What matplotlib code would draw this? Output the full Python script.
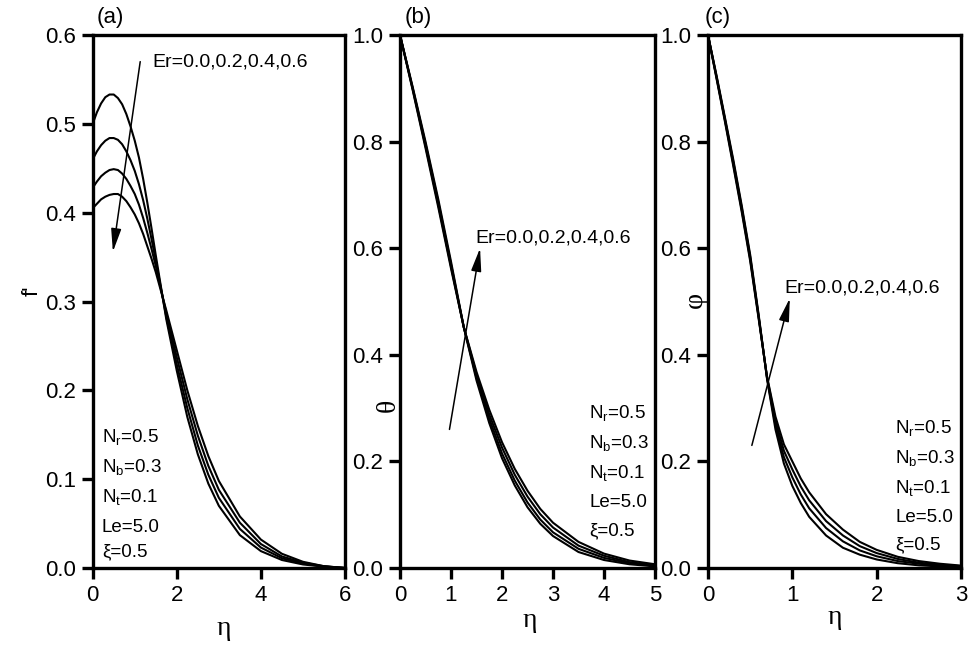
import matplotlib
matplotlib.use("Agg")
import matplotlib.pyplot as plt

plt.rcParams['font.family'] = ['Liberation Sans', 'DejaVu Sans']
plt.rcParams['mathtext.fontset'] = 'custom'
plt.rcParams['mathtext.rm'] = 'Liberation Sans'
plt.rcParams['mathtext.it'] = 'Liberation Sans:italic'

er_label = 'Er=0.0,0.2,0.4,0.6'
param_lines = [r'N$_\mathregular{r}$=0.5', r'N$_\mathregular{b}$=0.3', r'N$_\mathregular{t}$=0.1',
               'Le=5.0', '\u03be=0.5']

# (a) velocity f'
eta_a = [0, 0.1, 0.2, 0.3, 0.4, 0.5, 0.6, 0.7, 0.8, 0.9, 1.0, 1.1, 1.2, 1.3, 1.4, 1.5,
         1.75, 2.0, 2.25, 2.5, 2.75, 3.0, 3.5, 4.0, 4.5, 5.0, 5.5, 6.0]
fp_er00 = [0.500, 0.513, 0.523, 0.530, 0.533, 0.533, 0.529, 0.522, 0.511, 0.497, 0.481, 0.462, 0.438, 0.411, 0.382, 0.352,
           0.280, 0.222, 0.170, 0.128, 0.095, 0.070, 0.037, 0.019, 0.009, 0.004, 0.0015, 0.0]
fp_er02 = [0.460, 0.469, 0.476, 0.481, 0.484, 0.484, 0.482, 0.477, 0.469, 0.459, 0.447, 0.432, 0.414, 0.393, 0.370, 0.346,
           0.283, 0.229, 0.180, 0.138, 0.105, 0.079, 0.044, 0.023, 0.011, 0.005, 0.0017, 0.0]
fp_er04 = [0.428, 0.435, 0.441, 0.445, 0.448, 0.449, 0.448, 0.444, 0.438, 0.430, 0.421, 0.409, 0.394, 0.377, 0.359, 0.340,
           0.287, 0.237, 0.190, 0.149, 0.115, 0.088, 0.051, 0.027, 0.013, 0.006, 0.002, 0.0]
fp_er06 = [0.405, 0.410, 0.415, 0.418, 0.420, 0.421, 0.421, 0.418, 0.413, 0.406, 0.398, 0.388, 0.376, 0.362, 0.348, 0.333,
           0.290, 0.245, 0.200, 0.160, 0.126, 0.098, 0.058, 0.032, 0.016, 0.007, 0.002, 0.0]

# (b) temperature theta
eta_b = [0, 0.25, 0.5, 0.75, 1.0, 1.25, 1.5, 1.75, 2.0, 2.25, 2.5, 2.75, 3.0, 3.5, 4.0, 4.5, 5.0]
th_er00 = [1.0, 0.902, 0.800, 0.692, 0.575, 0.452, 0.352, 0.272, 0.206, 0.155, 0.114, 0.083, 0.060, 0.030, 0.015, 0.007, 0.003]
th_er02 = [1.0, 0.900, 0.796, 0.687, 0.570, 0.452, 0.357, 0.280, 0.215, 0.164, 0.123, 0.091, 0.067, 0.036, 0.019, 0.009, 0.004]
th_er04 = [1.0, 0.898, 0.792, 0.682, 0.566, 0.452, 0.363, 0.288, 0.226, 0.175, 0.134, 0.101, 0.076, 0.042, 0.023, 0.011, 0.005]
th_er06 = [1.0, 0.896, 0.788, 0.677, 0.562, 0.452, 0.368, 0.297, 0.236, 0.186, 0.145, 0.111, 0.085, 0.049, 0.027, 0.014, 0.007]

# (c) concentration phi
eta_c = [0, 0.1, 0.2, 0.3, 0.4, 0.5, 0.6, 0.7, 0.8, 0.9, 1.0, 1.1, 1.2, 1.4, 1.6, 1.8, 2.0, 2.25, 2.5, 2.75, 3.0]
ph_er00 = [1.0, 0.925, 0.846, 0.766, 0.680, 0.588, 0.476, 0.355, 0.260, 0.196, 0.154, 0.122, 0.096,
           0.061, 0.038, 0.025, 0.016, 0.009, 0.005, 0.003, 0.0015]
ph_er02 = [1.0, 0.923, 0.843, 0.762, 0.676, 0.584, 0.473, 0.356, 0.268, 0.208, 0.170, 0.138, 0.112,
           0.075, 0.050, 0.033, 0.022, 0.013, 0.008, 0.004, 0.0025]
ph_er04 = [1.0, 0.921, 0.841, 0.758, 0.672, 0.580, 0.471, 0.358, 0.276, 0.220, 0.185, 0.153, 0.127,
           0.088, 0.061, 0.041, 0.028, 0.017, 0.010, 0.006, 0.0035]
ph_er06 = [1.0, 0.919, 0.838, 0.754, 0.668, 0.576, 0.468, 0.359, 0.284, 0.232, 0.200, 0.168, 0.142,
           0.101, 0.072, 0.049, 0.034, 0.021, 0.013, 0.008, 0.0045]


def style_axis(ax, xmax, ymax, xticks, yticks, tag, tag_x):
    ax.set_xlim(0, xmax)
    ax.set_ylim(0, ymax)
    ax.set_xticks(xticks)
    ax.set_yticks(yticks)
    ax.set_xticklabels([str(t) for t in xticks])
    ax.set_yticklabels(['%.1f' % t for t in yticks])
    for s in ax.spines.values():
        s.set_linewidth(2.4)
    ax.tick_params(direction='out', length=8, width=2.4, labelsize=16, pad=4)
    ax.text(tag_x, 1.0225, tag, transform=ax.transAxes, fontsize=16, ha='left', va='baseline')


fig = plt.figure(figsize=(9.69, 6.49), dpi=100)
ax_a = fig.add_axes([92.7 / 969, 81 / 649, 252.3 / 969, 533 / 649])
ax_b = fig.add_axes([400 / 969, 81 / 649, 255 / 969, 533 / 649])
ax_c = fig.add_axes([708 / 969, 81 / 649, 253 / 969, 533 / 649])

for ys in (fp_er00, fp_er02, fp_er04, fp_er06):
    ax_a.plot(eta_a, ys, color='black', lw=1.5)
for ys in (th_er00, th_er02, th_er04, th_er06):
    ax_b.plot(eta_b, ys, color='black', lw=1.5)
for ys in (ph_er00, ph_er02, ph_er04, ph_er06):
    ax_c.plot(eta_c, ys, color='black', lw=1.5)

style_axis(ax_a, 6, 0.6, [0, 2, 4, 6], [0.0, 0.1, 0.2, 0.3, 0.4, 0.5, 0.6], '(a)', 0.017)
style_axis(ax_b, 5, 1.0, [0, 1, 2, 3, 4, 5], [0.0, 0.2, 0.4, 0.6, 0.8, 1.0], '(b)', 0.02)
style_axis(ax_c, 3, 1.0, [0, 1, 2, 3], [0.0, 0.2, 0.4, 0.6, 0.8, 1.0], '(c)', -0.012)

# axis titles
greek = dict(fontsize=20, family='Liberation Serif', ha='center', va='center')
ax_a.text(0.52, -0.113, '\u03b7', transform=ax_a.transAxes, **greek)
ax_b.text(0.51, -0.098, '\u03b7', transform=ax_b.transAxes, **greek)
ax_c.text(0.50, -0.092, '\u03b7', transform=ax_c.transAxes, **greek)
ax_a.text(-0.24, 0.52, "f'", transform=ax_a.transAxes, fontsize=16, rotation=90, ha='center', va='center')
ax_b.text(-0.047, 0.306, '\u03b8', transform=ax_b.transAxes, rotation=90, **greek)
ax_c.text(-0.051, 0.503, '\u03c6', transform=ax_c.transAxes, rotation=90, **greek)

arrow = dict(arrowstyle='-|>,head_length=1.0,head_width=0.22', mutation_scale=14,
             color='black', lw=1.1, shrinkA=0, shrinkB=0)

# Er arrows and labels
ax_a.annotate('', xy=(0.48, 0.356), xytext=(1.13, 0.570), arrowprops=arrow)
ax_a.text(1.41, 0.570, er_label, fontsize=14, va='center', ha='left')
ax_b.annotate('', xy=(1.57, 0.60), xytext=(0.97, 0.26), arrowprops=arrow)
ax_b.text(1.47, 0.62, er_label, fontsize=14, va='center', ha='left')
ax_c.annotate('', xy=(0.97, 0.506), xytext=(0.52, 0.23), arrowprops=arrow)
ax_c.text(0.90, 0.526, er_label, fontsize=14, va='center', ha='left')

# parameter lists
param_pos = [(ax_a, 0.22, [0.148, 0.114, 0.080, 0.046, 0.018]),
             (ax_b, 3.71, [0.290, 0.235, 0.178, 0.122, 0.070]),
             (ax_c, 2.22, [0.263, 0.206, 0.150, 0.094, 0.043])]
for ax, x0, ys in param_pos:
    for txt, y in zip(param_lines, ys):
        ax.text(x0, y, txt, fontsize=13.5, va='center', ha='left')

fig.savefig('out.png', dpi=100)
